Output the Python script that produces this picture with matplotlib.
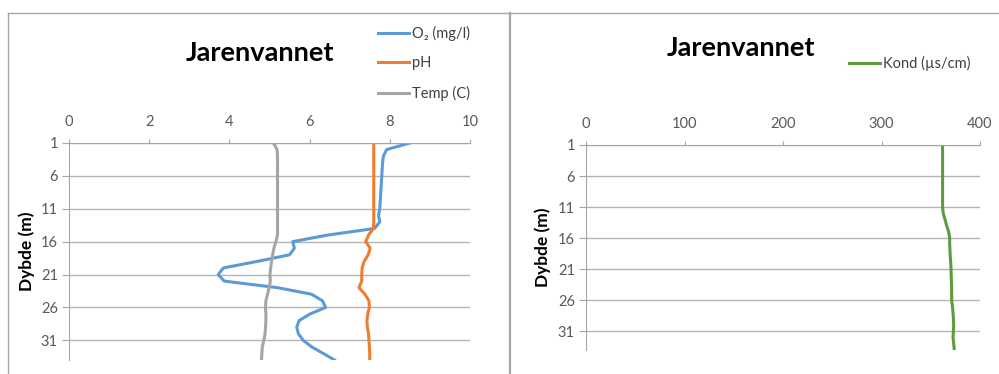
import matplotlib
matplotlib.use('Agg')
import matplotlib.pyplot as plt
from matplotlib.lines import Line2D

plt.rcParams['font.family'] = ['Lato', 'DejaVu Sans']

# depth (m), one reading per meter
depth = list(range(1, 35))
o2 = [8.50, 7.92, 7.84, 7.82, 7.81, 7.80, 7.79, 7.78, 7.77, 7.76, 7.75, 7.72, 7.75, 7.62,
      6.45, 5.58, 5.62, 5.50, 4.70, 3.85, 3.72, 3.87, 5.20, 6.05, 6.32, 6.40, 6.01, 5.74,
      5.68, 5.72, 5.84, 6.05, 6.34, 6.62]
ph = [7.60, 7.60, 7.60, 7.60, 7.60, 7.60, 7.60, 7.60, 7.60, 7.60, 7.60, 7.60, 7.60, 7.59,
      7.47, 7.40, 7.51, 7.46, 7.36, 7.31, 7.30, 7.30, 7.23, 7.38, 7.48, 7.49, 7.45, 7.43,
      7.44, 7.47, 7.48, 7.49, 7.50, 7.50]
temp = [5.10, 5.19, 5.20, 5.20, 5.20, 5.20, 5.20, 5.20, 5.20, 5.20, 5.20, 5.20, 5.20, 5.20,
        5.20, 5.16, 5.11, 5.08, 5.05, 5.03, 5.01, 5.02, 4.99, 4.95, 4.91, 4.90, 4.91, 4.91,
        4.90, 4.89, 4.86, 4.82, 4.81, 4.80]
kond = [362, 362, 362, 362, 362, 362, 362, 362, 362, 362, 362, 362.7, 364.5, 366.2,
        368.2, 369.2, 369.2, 369.5, 369.8, 370.3, 370.6, 370.8, 371.0, 371.2, 371.2, 371.3,
        372.0, 372.6, 373.0, 373.3, 373.0, 372.6, 373.3, 373.9]

depth_ticks = [1, 6, 11, 16, 21, 26, 31]
left_xticks = [0, 2, 4, 6, 8, 10]
right_xticks = [0, 100, 200, 300, 400]

W, H = 999, 374
fig = plt.figure(figsize=(W / 100, H / 100), dpi=100)


def box(x0, y0, x1, y1):
    return [x0 / W, 1 - y1 / H, (x1 - x0) / W, (y1 - y0) / H]


def style(ax, xmax, xticks):
    ax.set_xlim(0, xmax)
    ax.set_ylim(34, 1)
    ax.set_xticks(xticks)
    ax.set_yticks(depth_ticks)
    ax.xaxis.tick_top()
    ax.grid(axis='y', color='#B4B4B4', lw=1)
    ax.set_axisbelow(True)
    ax.spines['right'].set_visible(False)
    ax.spines['bottom'].set_visible(False)
    ax.spines['top'].set_color('#A6A6A6')
    ax.spines['left'].set_color('#A6A6A6')
    ax.tick_params(axis='x', direction='out', length=3, color='#A6A6A6',
                   labelcolor='#595959', labelsize=10.5, pad=7)
    ax.tick_params(axis='y', direction='out', length=5, color='#A6A6A6',
                   labelcolor='#595959', labelsize=10.5, pad=3)
    ax.set_ylabel('Dybde (m)', fontweight='bold', fontsize=12.5)


ax1 = fig.add_axes(box(69, 143, 470, 360))
style(ax1, 10, left_xticks)
ax1.plot(o2, depth, color='#5B9BD5', lw=2.2, label='O₂ (mg/l)')
ax1.plot(ph, depth, color='#ED7D31', lw=2.2, label='pH')
ax1.plot(temp, depth, color='#A5A5A5', lw=2.2, label='Temp (C)')
ax1.yaxis.set_label_coords(-0.085, 0.5)
ax1.legend(loc='upper left', bbox_to_anchor=(378 / W, 1 - 26 / H), bbox_transform=fig.transFigure,
           frameon=False, fontsize=10.5, handlelength=2.1, handletextpad=0.25, labelspacing=1.05,
           borderpad=0, borderaxespad=0, labelcolor='#404040')

ax2 = fig.add_axes(box(586, 145, 980, 350))
style(ax2, 400, right_xticks)
ax2.plot(kond, depth, color='#5E9A3F', lw=2.2, label='Kond (µs/cm)')
ax2.yaxis.set_label_coords(-0.089, 0.5)
ax2.legend(loc='upper left', bbox_to_anchor=(849 / W, 1 - 56 / H), bbox_transform=fig.transFigure,
           frameon=False, fontsize=10.5, handlelength=2.1, handletextpad=0.25,
           borderpad=0, borderaxespad=0, labelcolor='#404040')

fig.text(260 / W, 1 - 53 / H, 'Jarenvannet', ha='center', va='center', fontsize=19.5, fontweight='bold')
fig.text(741 / W, 1 - 48 / H, 'Jarenvannet', ha='center', va='center', fontsize=19.5, fontweight='bold')

# chart frames
fig.add_artist(Line2D([8 / W, 1], [1 - 13 / H, 1 - 13 / H], color='#A6A6A6', lw=1))
fig.add_artist(Line2D([8 / W, 8 / W], [0, 1 - 13 / H], color='#A6A6A6', lw=1))
fig.add_artist(Line2D([510 / W, 510 / W], [0, 1 - 13 / H], color='#A6A6A6', lw=1.6))

fig.savefig('out.png', dpi=100)
